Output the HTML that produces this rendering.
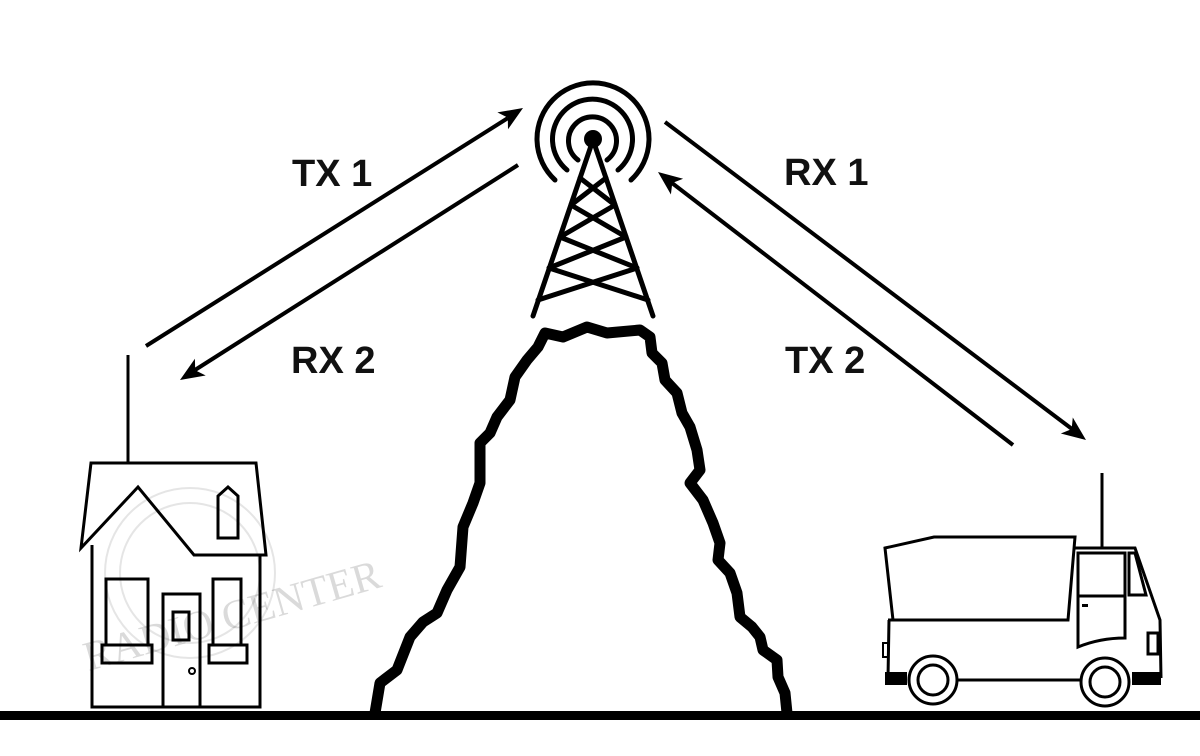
<!DOCTYPE html>
<html><head><meta charset="utf-8"><style>html,body{margin:0;padding:0;background:#fff}svg{display:block}</style></head>
<body>
<svg width="1200" height="756" viewBox="0 0 1200 756" xmlns="http://www.w3.org/2000/svg">
<rect width="1200" height="756" fill="#fff"/>
<!-- watermark -->
<g opacity="0.15" fill="none" stroke="#555" stroke-width="2">
<circle cx="190" cy="573" r="85"/><circle cx="190" cy="573" r="70"/>
</g>
<text x="70" y="640" font-family="Liberation Serif, serif" font-size="42" fill="#000" opacity="0.14" transform="rotate(-16 190 590)">RADIO CENTER</text>

<!-- arrows -->
<g stroke="#000" stroke-width="4" fill="none">
<line x1="146" y1="346" x2="508" y2="118"/>
<line x1="518" y1="165" x2="195" y2="370"/>
<line x1="665" y1="122" x2="1072" y2="429"/>
<line x1="1013" y1="445" x2="672" y2="183"/>
</g>
<g fill="#000">
<polygon points="523,108 508,129.3 507.8,117.6 497.4,112.4"/>
<polygon points="180,380 205.7,375.5 195.2,370.3 194.9,358.7"/>
<polygon points="1086,440 1060.8,433.5 1071.6,429.1 1072.8,417.5"/>
<polygon points="658,172 683.1,178.7 672.3,183 670.9,194.5"/>
</g>
<g font-family="Liberation Sans, sans-serif" font-weight="bold" font-size="38" fill="#111">
<text x="292" y="186">TX 1</text>
<text x="291" y="373">RX 2</text>
<text x="784" y="185">RX 1</text>
<text x="785" y="373">TX 2</text>
</g>

<!-- tower -->
<g stroke="#000" fill="none" stroke-linecap="round">
<g stroke-width="5">
<path d="M578,160 A24,24 0 1 1 607,160"/>
<path d="M567,170 A40,40 0 1 1 618,170"/>
<path d="M555,180 A56,56 0 1 1 631,180"/>
</g>
<g stroke-width="5">
<line x1="593" y1="140" x2="533" y2="316"/>
<line x1="593" y1="140" x2="653" y2="316"/>
<line x1="580" y1="178" x2="615" y2="205"/>
<line x1="606" y1="178" x2="571" y2="205"/>
<line x1="571" y1="205" x2="626" y2="237"/>
<line x1="615" y1="205" x2="560" y2="237"/>
<line x1="560" y1="237" x2="637" y2="268"/>
<line x1="626" y1="237" x2="549" y2="268"/>
<line x1="549" y1="268" x2="648" y2="300"/>
<line x1="637" y1="268" x2="538" y2="300"/>
</g>
<circle cx="593" cy="139" r="9" fill="#000" stroke="none"/>
</g>

<!-- mountain -->
<path d="M375,713 L380,683 L397,670 L410,637 L423,622 L437,613 L447,590 L460,567 L463,527 L473,503 L480,483 L480,443 L490,433 L497,417 L510,400 L515,377 L527,360 L538,347 L545,333 L563,337 L587,327 L607,333 L640,330 L650,337 L652,353 L662,363 L665,380 L677,393 L682,413 L690,427 L697,450 L700,470 L690,483 L703,500 L713,523 L720,543 L718,560 L730,573 L737,593 L740,617 L752,627 L760,637 L763,650 L777,660 L778,677 L785,693 L787,713"
 fill="none" stroke="#000" stroke-width="11" stroke-linejoin="round" stroke-linecap="round"/>

<!-- ground -->
<rect x="0" y="711" width="1200" height="9" fill="#000"/>

<!-- house -->
<g stroke="#000" stroke-width="3" fill="none">
<line x1="128" y1="355" x2="128" y2="463"/>
<path d="M92,545 L92,707 L260,707 L260,555"/>
<path d="M81,548 L91,463 L256,463 L266,555 L194,555 L138,487 Z"/>
<path d="M218,538 L218,496 L228,487 L238,496 L238,538 Z"/>
<rect x="106" y="579" width="42" height="66"/>
<rect x="102" y="645" width="50" height="18"/>
<rect x="213" y="579" width="28" height="66"/>
<rect x="209" y="645" width="38" height="18"/>
<rect x="163" y="594" width="37" height="113"/>
<rect x="173" y="612" width="16" height="28"/>
<circle cx="192" cy="671" r="3" stroke-width="2"/>
</g>

<!-- truck -->
<g stroke="#000" stroke-width="3" fill="none">
<line x1="1102" y1="473" x2="1102" y2="548"/>
<path d="M885,548 L934,537 L1075,537 L1068,620 L893,620 Z"/>
<path d="M889,620 L888,678 M1075,548 L1135,548 L1160,620 L1161,678"/>
<line x1="888" y1="620" x2="1068" y2="620"/>
<line x1="955" y1="680" x2="1082" y2="680"/>
<path d="M1078,553 L1125,553 L1125,638 Q1100,638 1078,647 Z"/>
<line x1="1078" y1="596" x2="1125" y2="596"/>
<path d="M1129,553 L1135,553 L1146,595 L1129,595 Z"/>
<rect x="1148" y="633" width="10" height="21"/>
<rect x="883" y="643" width="5" height="14" stroke-width="2"/>
</g>
<rect x="885" y="672" width="22" height="13" fill="#000"/>
<rect x="1132" y="672" width="29" height="13" fill="#000"/>
<rect x="1082" y="604" width="6" height="3" fill="#000"/>
<g stroke="#000" stroke-width="3" fill="#fff">
<circle cx="933" cy="680" r="24"/><circle cx="933" cy="680" r="15"/>
<circle cx="1105" cy="682" r="24"/><circle cx="1105" cy="682" r="15"/>
</g>
</svg>
</body></html>
